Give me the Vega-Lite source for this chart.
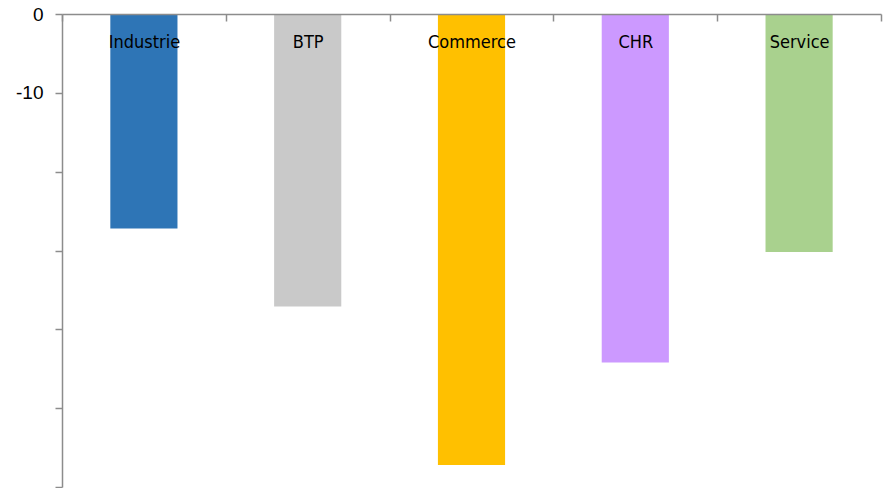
{
  "$schema": "https://vega.github.io/schema/vega-lite/v6.json",
  "width": 819,
  "height": 473,
  "autosize": {"type": "none"},
  "padding": {"left": 62, "top": 14, "right": 2, "bottom": 1},
  "background": "white",
  "config": {"view": {"stroke": null}},
  "data": {
    "values": [
      {"secteur": "Industrie", "valeur": -27.2},
      {"secteur": "BTP", "valeur": -37.1},
      {"secteur": "Commerce", "valeur": -57.2},
      {"secteur": "CHR", "valeur": -44.2},
      {"secteur": "Service", "valeur": -30.2}
    ]
  },
  "mark": {"type": "bar", "width": {"band": 0.41}},
  "encoding": {
    "x": {
      "field": "secteur",
      "type": "nominal",
      "sort": null,
      "scale": {"paddingInner": 0, "paddingOuter": 0},
      "axis": {
        "orient": "top",
        "title": null,
        "zindex": 1,
        "domainColor": "#8c8c8c",
        "domainWidth": 1.5,
        "tickColor": "#8c8c8c",
        "tickWidth": 1.5,
        "tickSize": -7,
        "tickBand": "extent",
        "labelAngle": 0,
        "labelPadding": -21,
        "labelBaseline": "middle",
        "labelFont": "Liberation Sans Narrow, DejaVu Sans Condensed, sans-serif",
        "labelFontSize": 18,
        "labelColor": "black"
      }
    },
    "y": {
      "field": "valeur",
      "type": "quantitative",
      "scale": {"domain": [-60, 0], "nice": false},
      "axis": {
        "title": null,
        "grid": false,
        "values": [0, -10, -20, -30, -40, -50, -60],
        "labelExpr": "datum.value == 0 ? '0' : (datum.value == -10 ? '-10' : '')",
        "domainColor": "#8c8c8c",
        "domainWidth": 1.5,
        "tickColor": "#8c8c8c",
        "tickWidth": 1.5,
        "tickSize": 7,
        "labelPadding": 12,
        "labelFont": "Liberation Sans, Arial, sans-serif",
        "labelFontSize": 19,
        "labelColor": "black"
      }
    },
    "color": {
      "field": "secteur",
      "type": "nominal",
      "legend": null,
      "scale": {
        "domain": ["Industrie", "BTP", "Commerce", "CHR", "Service"],
        "range": ["#2E75B6", "#C9C9C9", "#FFC000", "#CC99FF", "#A9D18E"]
      }
    }
  }
}
